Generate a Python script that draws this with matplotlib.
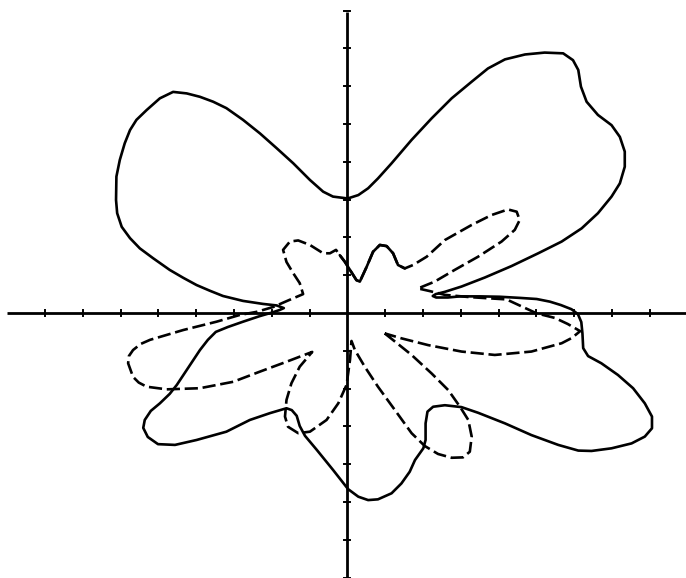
import matplotlib; matplotlib.use('Agg')
import numpy as np
from matplotlib import pyplot as plt

# outer curve (solid), closed, in axis units
solid_x = [0.01, 0.29, 0.55, 0.81, 1.17, 1.70, 2.23, 2.76, 3.29, 3.72,
           4.17, 4.70, 5.22, 5.71, 5.97, 6.11, 6.18, 6.33, 6.63, 6.99,
           7.21, 7.34, 7.34, 7.21, 6.99, 6.63, 6.20, 5.67, 5.05, 4.34,
           3.64, 3.02, 2.58, 2.34, 2.26, 2.35, 2.66, 2.98, 3.51, 4.03,
           4.56, 5.01, 5.36, 5.65, 5.93, 6.10, 6.19, 6.22, 6.24, 6.37,
           6.72, 7.16, 7.56, 7.87, 8.06, 8.06, 7.87, 7.52, 6.99, 6.46,
           6.11, 5.58, 4.87, 4.17, 3.46, 3.02, 2.58, 2.27, 2.12, 2.07,
           2.07, 2.01, 1.79, 1.65, 1.43, 1.17, 0.81, 0.55, 0.29, 0.02,
           -0.38, -0.81, -1.12, -1.26, -1.34, -1.47, -1.61, -2.05, -2.58, -3.20,
           -3.99, -4.56, -5.01, -5.28, -5.40, -5.36, -5.20, -4.96, -4.70, -4.51,
           -4.25, -3.90, -3.69, -3.48, -3.16, -2.76, -2.31, -2.00, -1.79, -1.68,
           -1.87, -2.23, -2.76, -3.29, -3.64, -3.99, -4.34, -4.70, -5.14, -5.49,
           -5.75, -5.97, -6.09, -6.12, -6.11, -6.02, -5.89, -5.75, -5.58, -5.31,
           -4.96, -4.61, -4.25, -3.90, -3.55, -3.20, -2.76, -2.31, -1.87, -1.43,
           -0.99, -0.64, -0.38, 0.01]
solid_y = [3.03, 3.12, 3.30, 3.56, 3.96, 4.58, 5.15, 5.68, 6.12, 6.47,
           6.71, 6.84, 6.89, 6.87, 6.69, 6.43, 5.99, 5.59, 5.24, 4.97,
           4.66, 4.27, 3.87, 3.43, 3.08, 2.64, 2.24, 1.89, 1.58, 1.24,
           0.94, 0.70, 0.56, 0.50, 0.45, 0.41, 0.41, 0.44, 0.44, 0.43,
           0.40, 0.37, 0.30, 0.21, 0.10, -0.03, -0.24, -0.54, -0.93, -1.14,
           -1.33, -1.64, -1.99, -2.39, -2.74, -3.05, -3.27, -3.45, -3.58, -3.65,
           -3.64, -3.49, -3.23, -2.92, -2.64, -2.49, -2.44, -2.48, -2.61, -2.92,
           -3.36, -3.58, -3.89, -4.20, -4.51, -4.77, -4.93, -4.95, -4.86, -4.66,
           -4.15, -3.62, -3.25, -2.99, -2.72, -2.57, -2.52, -2.65, -2.83, -3.14,
           -3.36, -3.49, -3.47, -3.28, -3.04, -2.83, -2.59, -2.39, -2.14, -1.90,
           -1.51, -0.98, -0.71, -0.50, -0.37, -0.23, -0.08, 0.01, 0.08, 0.13,
           0.20, 0.24, 0.32, 0.45, 0.59, 0.74, 0.93, 1.14, 1.45, 1.71,
           1.98, 2.28, 2.64, 2.99, 3.61, 4.05, 4.49, 4.84, 5.11, 5.37,
           5.68, 5.85, 5.81, 5.72, 5.59, 5.42, 5.11, 4.75, 4.36, 3.96,
           3.52, 3.21, 3.08, 3.03]

# inner curve (dashed), closed
dashed_x = [0.99, 1.34, 1.70, 2.23, 2.67, 2.98, 3.20, 3.29, 3.24, 3.06,
            2.76, 2.40, 2.05, 1.70, 1.26, 0.81, 0.46, 0.20, 0.11, 0.07,
            -0.02, -0.24, -0.55, -0.99, -1.30, -1.57, -1.65, -1.61, -1.48, -1.26,
            -1.04, -0.93, -1.61, -2.31, -3.02, -3.90, -4.78, -5.31, -5.52, -5.67,
            -5.80, -5.78, -5.67, -5.47, -5.22, -4.34, -3.46, -2.84, -2.40, -1.96,
            -1.57, -1.17, -1.26, -1.43, -1.61, -1.70, -1.52, -1.30, -0.99, -0.64,
            -0.46, -0.30, -0.20, -0.07, 0.07, 0.24, 0.33, 0.51, 0.68, 0.86,
            1.04, 1.21, 1.34, 1.52, 1.74, 2.10, 2.58, 3.29, 3.81, 4.25,
            4.48, 4.56, 4.43, 4.08, 3.46, 2.84, 2.31, 1.87, 2.18, 2.58,
            3.24, 4.21, 5.01, 5.49, 5.83, 6.16, 5.94, 5.67, 4.87, 3.90,
            3.02, 2.14, 1.43, 0.99]
dashed_y = [-0.54, -0.82, -1.11, -1.60, -2.04, -2.48, -2.83, -3.27, -3.67, -3.82,
            -3.83, -3.73, -3.52, -3.18, -2.57, -1.95, -1.42, -0.98, -0.74, -1.24,
            -1.90, -2.39, -2.83, -3.14, -3.18, -3.01, -2.74, -2.30, -1.86, -1.42,
            -1.16, -1.03, -1.29, -1.55, -1.82, -1.99, -2.02, -1.95, -1.84, -1.69,
            -1.33, -1.14, -0.98, -0.82, -0.71, -0.45, -0.23, -0.05, 0.03, 0.16,
            0.33, 0.50, 0.79, 1.05, 1.35, 1.67, 1.89, 1.92, 1.80, 1.58,
            1.58, 1.67, 1.53, 1.36, 1.14, 0.87, 0.83, 1.22, 1.62, 1.80,
            1.77, 1.58, 1.27, 1.18, 1.27, 1.49, 1.93, 2.33, 2.59, 2.74,
            2.68, 2.46, 2.20, 1.89, 1.49, 1.14, 0.83, 0.65, 0.58, 0.48,
            0.42, 0.36, -0.01, -0.13, -0.29, -0.48, -0.66, -0.80, -1.02, -1.11,
            -1.02, -0.85, -0.67, -0.54]

x_ticks = [k for k in range(-8, 9) if k != 0]
y_ticks = [k for k in range(-7, 9) if k != 0]

fig = plt.figure(figsize=(6.86, 5.78), dpi=100)
ax = fig.add_axes([0, 0, 1, 1])
ax.set_xlim(-9.19, 8.96)
ax.set_ylim(-7.01, 8.28)
ax.set_aspect('equal')
ax.axis('off')

# coordinate axes drawn as plain lines with cross ticks
ax.plot([-9.0, 9.0], [0, 0], color='black', lw=2.0, solid_capstyle='butt')
ax.plot([0, 0], [7.96, -7.1], color='black', lw=2.0, solid_capstyle='butt')
tl = 0.08
for t in x_ticks:
    ax.plot([t, t], [-tl, tl], color='black', lw=1.4)
for t in y_ticks:
    ax.plot([-tl, tl], [t, t], color='black', lw=1.4)

ax.plot(solid_x, solid_y, color='black', lw=1.9,
        solid_joinstyle='round', solid_capstyle='round')
ax.plot(dashed_x, dashed_y, color='black', lw=1.9,
        linestyle=(0, (5, 1.8)), dash_capstyle='butt', dash_joinstyle='round')
# the wiggle next to the vertical axis is drawn unbroken
ax.plot(dashed_x[62:74], dashed_y[62:74], color='black', lw=1.9,
        solid_joinstyle='round', solid_capstyle='round')

fig.savefig('out.png', dpi=100, facecolor='white')
plt.close(fig)
